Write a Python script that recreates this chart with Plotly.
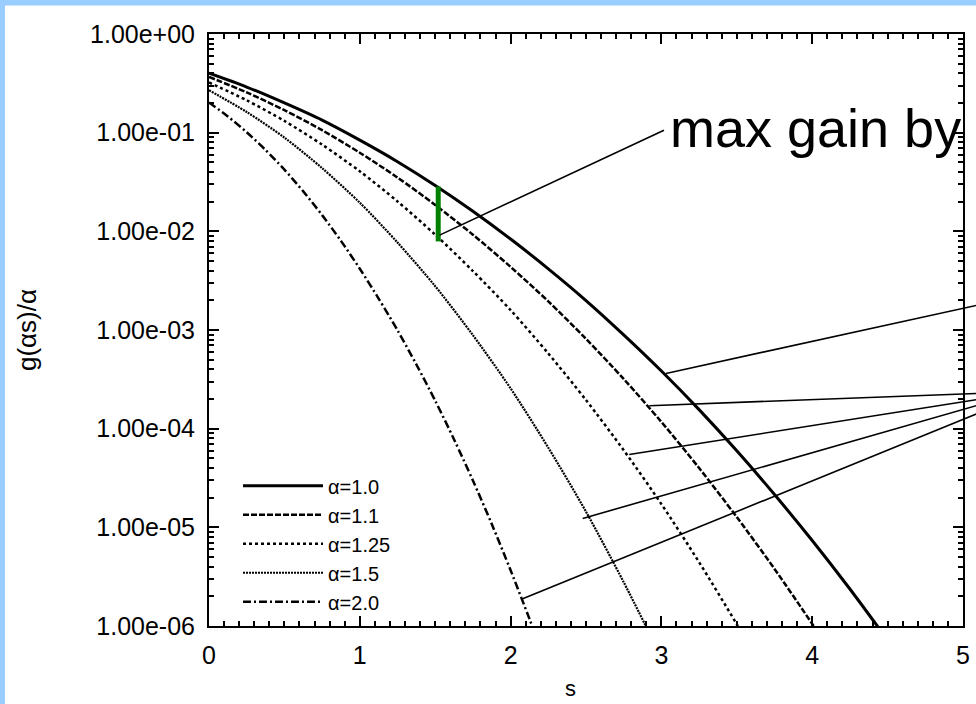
import math
import plotly.graph_objects as go

# ---------------- data ----------------
S_A10 = [0, 0.25, 0.5, 0.75, 1.0, 1.25, 1.5, 1.75, 2.0, 2.25, 2.5, 2.75, 3.0, 3.25, 3.5, 3.75, 4.0, 4.25, 4.5]
G_A10 = [0.40, 0.29, 0.20, 0.134, 0.084, 0.0508, 0.0292, 0.0160, 0.00836, 0.00417, 0.00199, 8.93e-4,
         3.84e-4, 1.56e-4, 5.96e-5, 2.15e-5, 7.35e-6, 2.37e-6, 7.2e-7]

S_A11 = [0, 0.25, 0.5, 0.75, 1.0, 1.25, 1.5, 1.75, 2.0, 2.25, 2.5, 2.75, 3.0, 3.25, 3.5, 3.75, 4.0, 4.25]
G_A11 = [0.367, 0.256, 0.169, 0.106, 0.0626, 0.0351, 0.0185, 0.00925, 0.00436, 0.00195, 8.13e-4, 3.19e-4,
         1.17e-4, 3.99e-5, 1.27e-5, 3.79e-6, 1.05e-6, 2.74e-7]

S_A125 = [0, 0.25, 0.5, 0.75, 1.0, 1.25, 1.5, 1.75, 2.0, 2.25, 2.5, 2.75, 3.0, 3.25, 3.5, 3.75]
G_A125 = [0.323, 0.213, 0.1315, 0.0757, 0.0406, 0.0201, 0.00925, 0.00396, 0.00159, 5.78e-4, 1.95e-4,
          6.05e-5, 1.72e-5, 4.43e-6, 1.04e-6, 2.26e-7]

S_A15 = [0, 0.25, 0.5, 0.75, 1.0, 1.25, 1.5, 1.75, 2.0, 2.25, 2.5, 2.75, 3.0]
G_A15 = [0.269, 0.162, 0.0891, 0.0437, 0.0195, 0.00771, 0.00278, 8.87e-4, 2.56e-4, 6.41e-5, 1.44e-5,
         2.78e-6, 4.8e-7]

S_A20 = [0, 0.125, 0.25, 0.375, 0.5, 0.625, 0.75, 0.875, 1.0, 1.125, 1.25, 1.375, 1.5, 1.625, 1.75,
         1.875, 2.0, 2.125, 2.25]
G_A20 = [0.202, 0.146, 0.101, 0.0668, 0.0422, 0.0254, 0.0146, 0.0080, 0.00418, 0.00208, 9.93e-4,
         4.47e-4, 1.92e-4, 7.78e-5, 2.98e-5, 1.08e-5, 3.67e-6, 1.18e-6, 3.6e-7]

SERIES_NAMES = ["α=1.0", "α=1.1", "α=1.25", "α=1.5", "α=2.0"]

Y_TICKS = [1e0, 1e-1, 1e-2, 1e-3, 1e-4, 1e-5, 1e-6]
Y_TICKTEXT = ["1.00e+00", "1.00e-01", "1.00e-02", "1.00e-03", "1.00e-04", "1.00e-05", "1.00e-06"]
Y_MINOR = [2e-6, 3e-6, 4e-6, 5e-6, 6e-6, 7e-6, 8e-6, 9e-6,
           2e-5, 3e-5, 4e-5, 5e-5, 6e-5, 7e-5, 8e-5, 9e-5,
           2e-4, 3e-4, 4e-4, 5e-4, 6e-4, 7e-4, 8e-4, 9e-4,
           2e-3, 3e-3, 4e-3, 5e-3, 6e-3, 7e-3, 8e-3, 9e-3,
           2e-2, 3e-2, 4e-2, 5e-2, 6e-2, 7e-2, 8e-2, 9e-2,
           2e-1, 3e-1, 4e-1, 5e-1, 6e-1, 7e-1, 8e-1, 9e-1]

# green "max gain" marker (s, top value, bottom value)
GAIN_S = 1.52
GAIN_TOP = 0.0285
GAIN_BOT = 0.0079

# pointer lines: (s on curve, value on curve, s at far end, value at far end)
POINTERS = [
    (3.03, 3.63e-4, 5.10, 1.79e-3),
    (2.92, 1.71e-4, 5.10, 2.28e-4),
    (2.787, 5.47e-5, 5.10, 1.98e-4),
    (2.478, 1.23e-5, 5.10, 1.73e-4),
    (2.08, 1.89e-6, 5.10, 1.43e-4),
]
GAIN_POINTER = (1.529, 9.15e-3, 3.017, 0.106)
GAIN_TEXT = "max gain by coding"

X_RANGE = [0, 5]
Y_RANGE = [-6, 0]

FONT = "Liberation Sans, Arial, Helvetica, sans-serif"


def px(s):
    return (s - X_RANGE[0]) / (X_RANGE[1] - X_RANGE[0])


def py(v):
    return (math.log10(v) - Y_RANGE[0]) / (Y_RANGE[1] - Y_RANGE[0])


fig = go.Figure()

styles = [
    dict(width=3, dash="solid"),
    dict(width=2.5, dash="6px,2px"),
    dict(width=2.5, dash="3px,3px"),
    dict(width=2.2, dash="2px,1px"),
    dict(width=2.5, dash="8px,3px,2px,3px"),
]
data = [(S_A10, G_A10), (S_A11, G_A11), (S_A125, G_A125), (S_A15, G_A15), (S_A20, G_A20)]
for (xs, ys), name, st in zip(data, SERIES_NAMES, styles):
    fig.add_trace(go.Scatter(
        x=xs, y=ys, mode="lines", name=name,
        line=dict(color="black", width=st["width"], dash=st["dash"], shape="spline", smoothing=0.8),
    ))

fig.add_trace(go.Scatter(
    x=[GAIN_S, GAIN_S], y=[GAIN_TOP, GAIN_BOT], mode="lines", showlegend=False,
    line=dict(color="#008000", width=5),
))

BLUE = "#99CCFF"
shapes = [
    # light-blue page border (left and top strips)
    dict(type="rect", xref="paper", yref="paper", x0=-0.4, x1=-0.2706, y0=-0.3, y1=1.2,
         fillcolor=BLUE, line=dict(width=0), layer="above"),
    dict(type="rect", xref="paper", yref="paper", x0=-0.4, x1=1.2, y0=1.0482, y1=1.2,
         fillcolor=BLUE, line=dict(width=0), layer="above"),
]
for s0, v0, s1, v1 in POINTERS + [GAIN_POINTER]:
    shapes.append(dict(type="line", xref="paper", yref="paper",
                       x0=px(s0), y0=py(v0), x1=px(s1), y1=py(v1),
                       line=dict(color="black", width=1.6), layer="above"))

annotations = [
    dict(text=GAIN_TEXT, xref="paper", yref="paper", x=px(3.044), y=py(0.112),
         xanchor="left", yanchor="middle", showarrow=False,
         font=dict(family=FONT, size=54, color="black")),
    dict(text="s", xref="paper", yref="paper", x=0.48, y=-0.1056,
         xanchor="center", yanchor="middle", showarrow=False,
         font=dict(family=FONT, size=22, color="black")),
]

fig.update_layout(
    template="none",
    width=976, height=704,
    margin=dict(l=209, r=13, t=34, b=78, pad=0),
    paper_bgcolor="white",
    plot_bgcolor="white",
    font=dict(family=FONT, color="black"),
    shapes=shapes,
    annotations=annotations,
    showlegend=True,
    legend=dict(x=0.0385, y=0.008, xanchor="left", yanchor="bottom",
                bgcolor="rgba(0,0,0,0)", font=dict(family=FONT, size=20, color="black"),
                itemwidth=80, tracegroupgap=0),
)

fig.update_xaxes(
    range=X_RANGE, dtick=1, ticks="inside", ticklen=10, tickwidth=2, tickcolor="black",
    showline=True, linecolor="black", linewidth=2, mirror="ticks", showgrid=False, zeroline=False,
    tickfont=dict(family=FONT, size=25, color="black"), ticklabelstandoff=6,
    minor=dict(dtick=0.1, ticks="inside", ticklen=5, tickwidth=2, tickcolor="black", showgrid=False),
)
fig.update_yaxes(
    type="log", range=Y_RANGE, tickmode="array", tickvals=Y_TICKS, ticktext=Y_TICKTEXT,
    ticks="inside", ticklen=10, tickwidth=2, tickcolor="black",
    showline=True, linecolor="black", linewidth=2, mirror="ticks", showgrid=False, zeroline=False,
    tickfont=dict(family=FONT, size=25, color="black"), ticklabelstandoff=7,
    minor=dict(tickmode="array", tickvals=Y_MINOR, ticks="inside", ticklen=5, tickwidth=2,
               tickcolor="black", showgrid=False),
    title=dict(text="g(αs)/α", font=dict(family=FONT, size=26, color="black"), standoff=46),
)

fig.write_html("out.html", config={"displayModeBar": False},
               post_script="document.body.style.margin='0px';")
